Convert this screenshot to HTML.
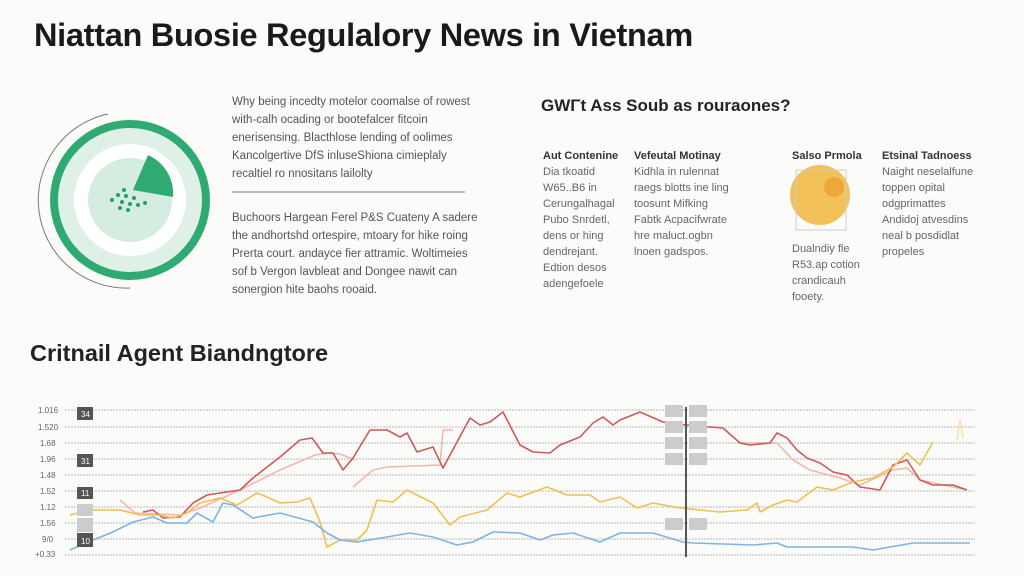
<!DOCTYPE html>
<html><head><meta charset="utf-8"><style>
*{margin:0;padding:0;box-sizing:border-box}
body{width:1024px;height:576px;background:#fbfbfa;font-family:"Liberation Sans",sans-serif;position:relative;overflow:hidden;color:#444}
.a{position:absolute;white-space:nowrap}
.p{font-size:11.5px;line-height:18px;color:#555}
.c{font-size:11px;line-height:16px;color:#666}
.h{font-size:11px;font-weight:bold;color:#333}
</style></head><body>
<div class="a" style="left:34px;top:17px;font-size:32.5px;font-weight:bold;color:#1a1a1a;letter-spacing:-0.3px">Niattan Buosie Regulalory News in Vietnam</div>

<svg class="a" style="left:0;top:0" width="1024" height="576">
<path d="M108 114 A88 88 0 0 0 130 288" fill="none" stroke="#777" stroke-width="1"/>
<circle cx="130" cy="200" r="80" fill="#2faa72"/>
<circle cx="130" cy="200" r="72" fill="#dff0e7"/>
<circle cx="130" cy="200" r="56" fill="#fff"/>
<circle cx="130" cy="200" r="42" fill="#d5ece0"/>
<path d="M133 190 L148 155 A42 42 0 0 1 173 197 Z" fill="#2faa72"/>
<g fill="#2a9c68"><circle cx="112" cy="200" r="2"/><circle cx="118" cy="195" r="2"/><circle cx="122" cy="202" r="2"/><circle cx="126" cy="196" r="2"/><circle cx="130" cy="204" r="2"/><circle cx="134" cy="198" r="2"/><circle cx="120" cy="208" r="2"/><circle cx="128" cy="210" r="2"/><circle cx="138" cy="205" r="2"/><circle cx="145" cy="203" r="2"/><circle cx="124" cy="190" r="2"/></g>
<line x1="232" y1="192" x2="465" y2="192" stroke="#777" stroke-width="1"/>
<circle cx="820" cy="195" r="30" fill="#f2c15a"/>
<circle cx="834" cy="187" r="10" fill="#eda83a"/>
<rect x="796" y="170" width="50" height="60" fill="none" stroke="#ccc"/>
<g stroke="#ccc" stroke-width="1.5" stroke-dasharray="2 1">
<line x1="65" y1="410" x2="975" y2="410"/><line x1="65" y1="427" x2="975" y2="427"/><line x1="65" y1="443" x2="975" y2="443"/><line x1="65" y1="459" x2="975" y2="459"/><line x1="65" y1="475" x2="975" y2="475"/><line x1="65" y1="491" x2="975" y2="491"/><line x1="65" y1="507" x2="975" y2="507"/><line x1="65" y1="523" x2="975" y2="523"/><line x1="65" y1="539" x2="975" y2="539"/><line x1="65" y1="555" x2="975" y2="555"/>
</g>
<g fill="none" stroke-width="1.6" stroke-linejoin="round">
<polyline stroke="#f2b8ad" points="120,500 135,513 180,515 200,508 240,490 280,470 315,455 330,453 340,454 355,460"/>
<polyline stroke="#f2b8ad" points="353,487 373,470 387,467 440,465 443,430 453,430"/>
<polyline stroke="#f2b8ad" points="740,443 777,443 793,460 810,470 840,478 860,485 893,470 907,468 920,480 953,487 967,490"/>
<polyline stroke="#cc5a5a" points="143,512 153,510 163,518 180,517 193,503 207,495 240,490 253,478 280,457 300,440 312,438 323,453 333,453 343,470 353,458 370,430 387,430 400,437 407,433 417,452 433,447 443,468 470,418 480,425 490,422 503,412 520,445 533,452 550,453 560,445 580,437 593,423 603,417 613,425 620,420 640,412 663,422 686,425 710,427 723,428 740,443 750,445 770,443 777,433 787,438 797,450 807,458 820,463 833,472 847,475 860,487 880,490 893,465 907,460 920,480 933,485 953,485 967,490"/>
<polyline stroke="#f0c050" points="70,515 90,510 120,510 140,515 160,515 173,518 187,513 200,503 220,498 237,505 257,493 267,497 280,503 297,502 310,498 320,522 327,547 340,540 357,540 367,530 377,500 393,502 407,490 433,503 450,525 460,517 487,510 507,493 520,497 547,487 567,495 590,495 600,502 620,497 637,508 653,503 680,508 720,512 747,510 757,503 760,512 773,505 787,500 797,502 817,487 833,490 853,482 873,478 893,467 907,453 920,465 933,442"/>
<polyline stroke="#f7e4b0" points="957,440 960,420 963,438"/>
<polyline stroke="#7fb3e6" points="70,550 93,540 113,532 133,522 153,517 167,523 187,523 197,513 213,522 223,503 233,505 253,518 280,513 313,522 327,533 340,540 357,542 387,537 410,533 433,537 457,545 473,542 493,532 520,533 540,540 553,535 573,533 600,542 620,533 653,533 683,542 693,543 753,545 777,543 787,547 853,547 873,550 913,543 970,543"/>
</g>
<line x1="686" y1="407" x2="686" y2="557" stroke="#555" stroke-width="2"/>
<g fill="#ccc"><rect x="665" y="405" width="18" height="12"/><rect x="689" y="405" width="18" height="12"/><rect x="665" y="421" width="18" height="12"/><rect x="689" y="421" width="18" height="12"/><rect x="665" y="437" width="18" height="12"/><rect x="689" y="437" width="18" height="12"/><rect x="665" y="453" width="18" height="12"/><rect x="689" y="453" width="18" height="12"/><rect x="665" y="518" width="18" height="12"/><rect x="689" y="518" width="18" height="12"/></g>
<g fill="#555"><rect x="77" y="407" width="16" height="13"/><rect x="77" y="454" width="16" height="13"/><rect x="77" y="487" width="16" height="12"/><rect x="77" y="533" width="16" height="14"/></g>
<g fill="#ccc"><rect x="77" y="504" width="16" height="12"/><rect x="77" y="518" width="16" height="14"/></g>
<g font-size="8" fill="#666" font-family="Liberation Sans"><text x="38" y="413">1.016</text><text x="38" y="430">1.520</text><text x="40" y="446">1.68</text><text x="40" y="462">1.96</text><text x="40" y="478">1.48</text><text x="40" y="494">1.52</text><text x="40" y="510">1.12</text><text x="40" y="526">1.56</text><text x="42" y="542">9/0</text><text x="35" y="557">+0.33</text></g>
<g font-size="8" fill="#fff" font-family="Liberation Sans"><text x="81" y="417">34</text><text x="81" y="464">31</text><text x="81" y="496">11</text><text x="81" y="544">10</text></g>
</svg>

<div class="a p" style="left:232px;top:93px">Why being incedty motelor coomalse of rowest<br>with-calh ocading or bootefalcer fitcoin<br>enerisensing. Blacthlose lending of oolimes<br>Kancolgertive DfS inluseShiona cimieplaly<br>recaltiel ro nnositans lailolty</div>
<div class="a p" style="left:232px;top:209px">Buchoors Hargean Ferel P&amp;S Cuateny A sadere<br>the andhortshd ortespire, mtoary for hike roing<br>Prerta court. andayce fier attramic. Woltimeies<br>sof b Vergon lavbleat and Dongee nawit can<br>sonergion hite baohs rooaid.</div>

<div class="a" style="left:541px;top:96px;font-size:17px;font-weight:bold;color:#222">GWΓt Ass Soub as rouraones?</div>
<div class="a h" style="left:543px;top:150px">Aut Contenine</div>
<div class="a c" style="left:543px;top:164px">Dia tkoatid<br>W65..B6 in<br>Cerungalhagal<br>Pubo Snrdetl,<br>dens or hing<br>dendrejant.<br>Edtion desos<br>adengefoele</div>
<div class="a h" style="left:634px;top:150px">Vefeutal Motinay</div>
<div class="a c" style="left:634px;top:164px">Kidhla in rulennat<br>raegs blotts ine ling<br>toosunt Mifking<br>Fabtk Acpacifwrate<br>hre maluct.ogbn<br>lnoen gadspos.</div>
<div class="a h" style="left:792px;top:150px">Salso Prmola</div>
<div class="a c" style="left:792px;top:241px">Dualndiy fle<br>R53.ap cotion<br>crandicauh<br>fooety.</div>
<div class="a h" style="left:882px;top:150px">Etsinal Tadnoess</div>
<div class="a c" style="left:882px;top:164px">Naight neselalfune<br>toppen opital<br>odgprimattes<br>Andidoj atvesdins<br>neal b posdidlat<br>propeles</div>

<div class="a" style="left:30px;top:340px;font-size:23.5px;font-weight:bold;color:#222">Critnail Agent Biandngtore</div>
</body></html>
